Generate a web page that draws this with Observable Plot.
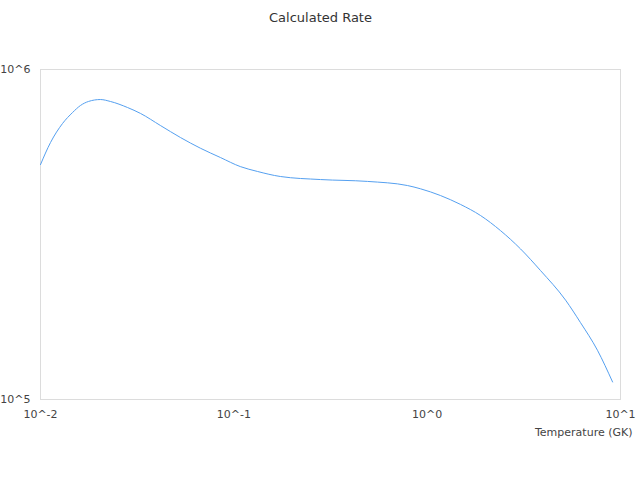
<!DOCTYPE html>
<html>
<head>
<meta charset="utf-8">
<script src="https://cdn.jsdelivr.net/npm/d3@7"></script>
<script src="https://cdn.jsdelivr.net/npm/@observablehq/plot@0.6"></script>
<style>
  body { margin: 0; background: #fff; }
  #chart svg { display: block; }
</style>
</head>
<body>
<div id="chart"></div>
<script>
const title = "Calculated Rate";
const xLabel = "Temperature (GK)";
const temperatures = [0.01, 0.01127, 0.0130, 0.01466, 0.0161, 0.0177, 0.0204, 0.0230, 0.0282, 0.0329, 0.0418, 0.0530, 0.0673, 0.0853, 0.108, 0.1324, 0.174, 0.281, 0.491, 0.791, 0.924, 1.172, 1.488, 1.888, 2.394, 3.04, 3.855, 5.20, 6.21, 7.60, 9.10];
const rates = [5.15e5, 6.01e5, 6.86e5, 7.41e5, 7.78e5, 8.00e5, 8.11e5, 8.00e5, 7.67e5, 7.36e5, 6.76e5, 6.22e5, 5.77e5, 5.41e5, 5.08e5, 4.91e5, 4.74e5, 4.64e5, 4.58e5, 4.45e5, 4.35e5, 4.15e5, 3.90e5, 3.61e5, 3.25e5, 2.86e5, 2.46e5, 2.00e5, 1.71e5, 1.41e5, 1.13e5];
const xTicks = [0.01, 0.1, 1, 10];
const yTicks = [1e5, 1e6];

const data = temperatures.map((t, i) => ({t, r: rates[i]}));
const fmt = d => "10^" + Math.round(Math.log10(d));

const chart = Plot.plot({
  width: 640,
  height: 480,
  marginTop: 69,
  marginLeft: 40,
  marginRight: 20,
  marginBottom: 81,
  style: {fontFamily: "DejaVu Sans", fontSize: "11px", color: "#444", background: "#fff"},
  x: {type: "log", domain: [0.01, 10]},
  y: {type: "log", domain: [1e5, 1e6]},
  marks: [
    Plot.frame({stroke: "#dcdcdc"}),
    Plot.axisX({ticks: xTicks, tickFormat: fmt, tickSize: 0, tickPadding: 11, label: null}),
    Plot.axisY({ticks: yTicks, tickFormat: fmt, tickSize: 0, tickPadding: 10, label: null}),
    Plot.line(data, {x: "t", y: "r", stroke: "#55a0f0", strokeWidth: 1, curve: "monotone-x"}),
    Plot.text([xLabel], {frameAnchor: "bottom-right", dx: 12, dy: 36, textAnchor: "end", fill: "#444"}),
    Plot.text([title], {frameAnchor: "top", dx: -10, dy: -57, fontSize: 13, fill: "#333"})
  ]
});
document.getElementById("chart").appendChild(chart);
</script>
</body>
</html>
